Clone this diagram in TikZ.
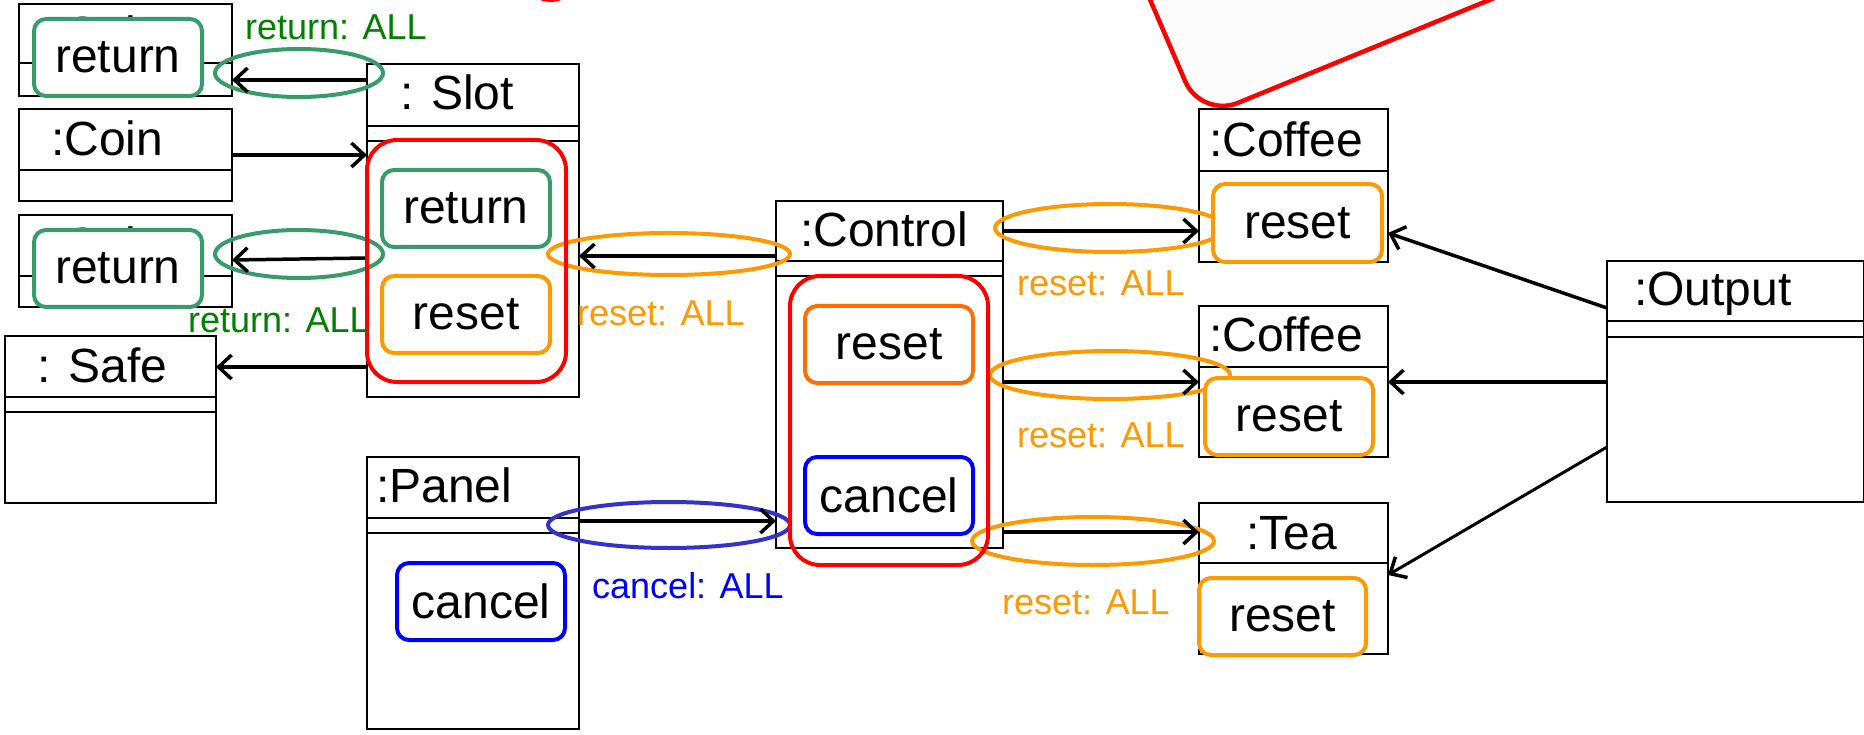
\documentclass[tikz,border=0pt]{standalone}
\usepackage{fontspec}
\setmainfont{Liberation Sans}
\usetikzlibrary{arrows.meta,shapes.geometric}
\definecolor{grn}{RGB}{58,155,106}
\definecolor{lgrn}{RGB}{0,128,0}
\definecolor{org}{RGB}{255,153,0}
\definecolor{orgr}{RGB}{255,110,0}
\definecolor{blu}{RGB}{0,0,255}
\definecolor{bell}{RGB}{51,51,204}
\definecolor{paper}{RGB}{252,252,252}
\newcommand\bigf{\fontsize{48}{56}\selectfont}
\newcommand\lblf{\fontsize{36}{42}\selectfont}
\begin{document}
\begin{tikzpicture}[x=1pt,y=-1pt,
  cls/.style={draw=black,line width=2pt,inner sep=0pt,outer sep=0pt,fill=white},
  divl/.style={draw=black,line width=2pt},
  hdr/.style={anchor=base west,inner sep=0pt,font=\bigf},
  meth/.style={draw=#1,line width=4pt,rounded corners=12pt,fill=white,inner sep=0pt,outer sep=0pt,minimum width=168pt,minimum height=77pt,font=\bigf},
  grp/.style={draw=red,line width=4pt,rounded corners=30pt,inner sep=0pt,outer sep=0pt},
  ell/.style={ellipse,draw=#1,line width=4pt,inner sep=0pt,outer sep=0pt},
  lbl/.style={anchor=base west,inner sep=0pt,font=\lblf,text=#1},
  arr/.style={draw=black,line width=3.5pt,-{Straight Barb[length=13pt,width=24pt,line width=3.5pt]}}]
\useasboundingbox (0,0) rectangle (1864,735);
\clip (0,0) rectangle (1864,735);
\fill[white] (0,0) rectangle (1864,735);
% red shape at the top
\fill[paper,rounded corners=40pt] (1071,-184) -- (1201,118) -- (1675,-76) -- cycle;
\draw[red,line width=4.5pt,rounded corners=40pt] (1071,-184) -- (1201,118) -- (1675,-76);
\draw[red,line width=4.5pt] (530,-10) .. controls (540,3) and (560,3) .. (572,-10);
% class boxes
\node[cls,minimum width=213pt,minimum height=92pt] (c1) at (125.5,50) {};
\node[cls,minimum width=213pt,minimum height=92pt] (coin) at (125.5,155) {};
\node[cls,minimum width=213pt,minimum height=92pt] (c3) at (125.5,261) {};
\node[cls,minimum width=212pt,minimum height=333pt] (slot) at (473,230.5) {};
\node[cls,minimum width=211pt,minimum height=167pt] (safe) at (110.5,419.5) {};
\node[cls,minimum width=212pt,minimum height=272pt] (panel) at (473,593) {};
\node[cls,minimum width=227pt,minimum height=347pt] (control) at (889.5,374.5) {};
\node[cls,minimum width=189pt,minimum height=153pt] (cof1) at (1293.5,185.5) {};
\node[cls,minimum width=189pt,minimum height=151pt] (cof2) at (1293.5,381.5) {};
\node[cls,minimum width=189pt,minimum height=151pt] (tea) at (1293.5,578.5) {};
\node[cls,minimum width=257pt,minimum height=241pt] (output) at (1735.5,381.5) {};
% dividers
\draw[divl] (c1.west |- 0,63) -- (c1.east |- 0,63);
\draw[divl] (coin.west |- 0,170) -- (coin.east |- 0,170);
\draw[divl] (c3.west |- 0,276) -- (c3.east |- 0,276);
\draw[divl] (slot.west |- 0,126) -- (slot.east |- 0,126);
\draw[divl] (slot.west |- 0,141) -- (slot.east |- 0,141);
\draw[divl] (safe.west |- 0,397) -- (safe.east |- 0,397);
\draw[divl] (safe.west |- 0,412) -- (safe.east |- 0,412);
\draw[divl] (panel.west |- 0,518) -- (panel.east |- 0,518);
\draw[divl] (panel.west |- 0,533) -- (panel.east |- 0,533);
\draw[divl] (control.west |- 0,261) -- (control.east |- 0,261);
\draw[divl] (control.west |- 0,276) -- (control.east |- 0,276);
\draw[divl] (cof1.west |- 0,171) -- (cof1.east |- 0,171);
\draw[divl] (cof2.west |- 0,367) -- (cof2.east |- 0,367);
\draw[divl] (tea.west |- 0,563) -- (tea.east |- 0,563);
\draw[divl] (output.west |- 0,321) -- (output.east |- 0,321);
\draw[divl] (output.west |- 0,337) -- (output.east |- 0,337);
% headers
\node[hdr] (hc1) at (51,51) {:Coin};
\node[hdr] (hc3) at (51,262) {:Coin};
\node[hdr] (hslot) at (400,110) {: Slot};
\node[hdr] (hcoin) at (51,156) {:Coin};
\node[hdr] (hsafe) at (37,382) {: Safe};
\node[hdr] (hpanel) at (376,502) {:Panel};
\node[hdr] (hcontrol) at (800,247) {:Control};
\node[hdr] (hcof1) at (1209,157) {:Coffee};
\node[hdr] (hcof2) at (1209,352) {:Coffee};
\node[hdr] (htea) at (1246,549) {:Tea};
\node[hdr] (houtput) at (1634,306) {:Output};
% ellipses
\node[ell=grn,minimum width=168pt,minimum height=48pt] (eg1) at (299,73) {};
\node[ell=grn,minimum width=168pt,minimum height=48pt] (eg2) at (299,254) {};
\node[ell=org,minimum width=242pt,minimum height=42pt] (eo0) at (669,254) {};
\node[ell=org,minimum width=230pt,minimum height=48pt] (eo1) at (1110,228) {};
\node[ell=org,minimum width=240pt,minimum height=48pt] (eo2) at (1110,375) {};
\node[ell=org,minimum width=242pt,minimum height=48pt] (eo3) at (1093,541) {};
\node[ell=bell,minimum width=242pt,minimum height=46pt] (eb) at (669,525) {};
% arrows
\draw[arr] (slot.west |- 0,80) -- (c1.east |- 0,80);
\draw[arr] (coin.east |- 0,155) -- (slot.west |- 0,155);
\draw[arr] (slot.west |- 0,258) -- (c3.east |- 0,260);
\draw[arr] (slot.west |- 0,367) -- (safe.east |- 0,367);
\draw[arr] (control.west |- 0,256) -- (slot.east |- 0,256);
\draw[arr] (panel.east |- 0,521) -- (control.west |- 0,521);
\draw[arr] (control.east |- 0,231) -- (cof1.west |- 0,231);
\draw[arr] (control.east |- 0,382) -- (cof2.west |- 0,382);
\draw[arr] (control.east |- 0,532) -- (tea.west |- 0,532);
\draw[arr] (output.west |- 0,308) -- (cof1.east |- 0,233);
\draw[arr] (output.west |- 0,382) -- (cof2.east |- 0,382);
\draw[arr,line width=3pt] (output.west |- 0,447) -- (tea.east |- 0,575);
% groups
\node[grp,minimum width=199pt,minimum height=242pt] (gslot) at (466.5,261) {};
\node[grp,minimum width=198pt,minimum height=289pt] (gcontrol) at (889,420.5) {};
% methods
\node[meth=grn] (r1) at (118,57.5) {return};
\node[meth=grn] (r3) at (118,268.5) {return};
\node[meth=grn] (sret) at (466,208.5) {return};
\node[meth=org] (sres) at (466,314.5) {reset};
\node[meth=blu] (pcan) at (481,601.5) {cancel};
\node[meth=orgr] (cres) at (889,344.5) {reset};
\node[meth=blu] (ccan) at (889,495.5) {cancel};
\node[meth=org,minimum width=169pt,minimum height=78pt] (c1res) at (1297.5,223) {reset};
\node[meth=org] (c2res) at (1289,416.5) {reset};
\node[meth=org,minimum width=167pt] (tres) at (1282.5,616.5) {reset};
% labels
\node[lbl=lgrn] (l1) at (245,40) {return: ALL};
\node[lbl=lgrn] (l2) at (188,333) {return: ALL};
\node[lbl=org] (l3) at (577,326) {reset: ALL};
\node[lbl=org] (l4) at (1017,296) {reset: ALL};
\node[lbl=org] (l5) at (1017,447) {reset: ALL};
\node[lbl=org] (l6) at (1002,614) {reset: ALL};
\node[lbl=blu] (l7) at (592,598) {cancel: ALL};
\end{tikzpicture}
\end{document}
